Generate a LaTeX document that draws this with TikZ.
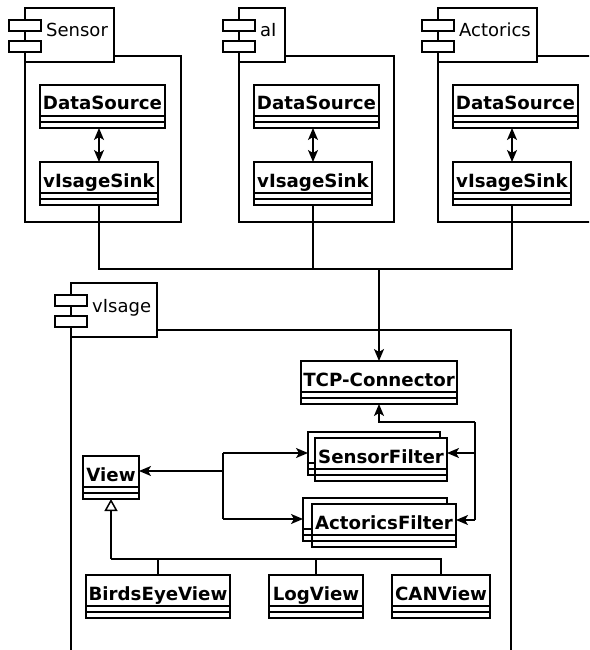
\documentclass[tikz,border=0pt]{standalone}
\usepackage{fontspec}
\setmainfont{DejaVu Sans}
\usetikzlibrary{arrows.meta}
\tikzset{
 ln/.style={line width=1.5pt},
 arr/.style={ln,-{Stealth[length=12pt,width=10pt,inset=3pt]}},
 darr/.style={ln,{Stealth[length=12pt,width=10pt,inset=3pt]}-{Stealth[length=12pt,width=10pt,inset=3pt]}},
 inh/.style={ln,-{Triangle[open,length=12pt,width=13pt]}},
 clsbox/.style={draw,ln,fill=white,inner sep=0pt,outer sep=0pt,minimum height=43pt,anchor=north west},
 clsname/.style={font=\fontsize{18.2}{20}\selectfont\bfseries,anchor=base,inner sep=0pt},
 pkgname/.style={font=\fontsize{18}{20}\selectfont,anchor=base west,inner sep=0pt},
 pkgpart/.style={draw,ln,fill=white},
}
\newcommand\umlclass[5]{%
 \node[clsbox,minimum width=#4pt] (#1) at (#2,#3) {};
 \node[clsname] (#1-t) at ([yshift=-25pt]#1.north) {#5};
 \draw[ln] ([yshift=-31pt]#1.north west) -- ([yshift=-31pt]#1.north east);
 \draw[ln] ([yshift=-37pt]#1.north west) -- ([yshift=-37pt]#1.north east);
}
\newcommand\umlback[4]{%
 \node[clsbox,minimum width=#4pt] (#1) at (#2,#3) {};
 \draw[ln] ([yshift=-31pt]#1.north west) -- ([yshift=-31pt]#1.north east);
 \draw[ln] ([yshift=-37pt]#1.north west) -- ([yshift=-37pt]#1.north east);
}
% id, bodyx1, bodyy1, bodyx2, bodyy2, tabx2, taby1, label
\newcommand\umlpkg[8]{%
 \draw[pkgpart] (#2,#3) rectangle (#4,#5);
 \draw[pkgpart] (#2,#7) rectangle (#6,#7+54);
 \draw[pkgpart] (#2-16,#7+12) rectangle (#2+16,#7+23);
 \draw[pkgpart] (#2-16,#7+33) rectangle (#2+16,#7+44);
 \node[pkgname] (#1) at (#2+21,#7+29) {#8};
}
\begin{document}
\begin{tikzpicture}[x=1pt,y=-1pt]
\useasboundingbox (0,0) rectangle (589,650);
\clip (0,0) rectangle (589,650);
% packages
\umlpkg{psensor}{25}{56}{181}{222}{114}{8}{Sensor}
\umlpkg{pai}{239}{56}{394}{222}{285}{8}{aI}
\umlpkg{pact}{438}{56}{620}{222}{537}{8}{Actorics}
\umlpkg{pvis}{71}{330}{511}{700}{157}{283}{vIsage}
% classes in top packages
\umlclass{ds1}{40}{85}{125}{DataSource}
\umlclass{ss1}{40}{162}{118}{vIsageSink}
\umlclass{ds2}{254}{85}{125}{DataSource}
\umlclass{ss2}{254}{162}{118}{vIsageSink}
\umlclass{ds3}{453}{85}{125}{DataSource}
\umlclass{ss3}{453}{162}{118}{vIsageSink}
\draw[darr] (ss1.south |- ds1.south) -- (ss1.north);
\draw[darr] (ss2.south |- ds2.south) -- (ss2.north);
\draw[darr] (ss3.south |- ds3.south) -- (ss3.north);
% vIsage classes
\umlclass{tcp}{301}{361}{156}{TCP-Connector}
\umlback{sfb}{308}{432}{132}
\umlclass{sf}{315}{438}{132}{SensorFilter}
\umlback{afb}{303}{498}{144}
\umlclass{af}{312}{504}{144}{ActoricsFilter}
\umlclass{view}{83}{456}{56}{View}
\umlclass{bev}{86}{575}{144}{BirdsEyeView}
\umlclass{lv}{269}{575}{94}{LogView}
\umlclass{cv}{392}{575}{98}{CANView}
% bus
\coordinate (bus) at (379,269);
\draw[ln] (ss1.south) |- (bus) -| (ss3.south);
\draw[ln] (ss2.south) -- (ss2.south |- bus);
\draw[arr] (bus) -- (tcp.north);
% right side
\coordinate (rj0) at (475,422);
\coordinate (rj1) at (475,453);
\coordinate (rj2) at (475,520);
\draw[arr] (rj0) -| (tcp.south);
\draw[ln] (rj0) -- (rj2);
\draw[arr] (rj1) -- (rj1 -| sf.east);
\draw[arr] (rj2) -- (rj2 -| af.east);
% left side
\coordinate (lj0) at (223,471);
\coordinate (lj1) at (223,453);
\coordinate (lj2) at (223,519);
\draw[arr] (lj0) -- (view.east |- lj0);
\draw[ln] (lj1) -- (lj2);
\draw[arr] (lj1) -- (lj1 -| sfb.west);
\draw[arr] (lj2) -- (lj2 -| afb.west);
% inheritance
\coordinate (ih) at (111,559);
\draw[inh] (ih) -- (view.south);
\draw[ln] (ih) -| (cv.north);
\draw[ln] (bev.north) -- (bev.north |- ih);
\draw[ln] (lv.north) -- (lv.north |- ih);
\end{tikzpicture}
\end{document}
